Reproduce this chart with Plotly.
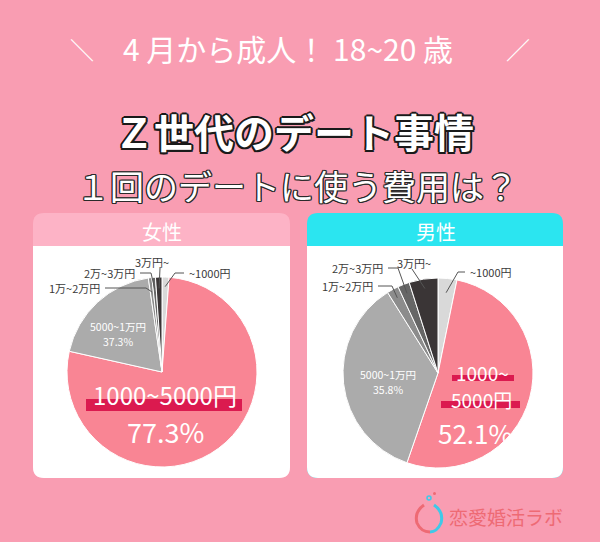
import math
import plotly.graph_objects as go

# ---------------- data ----------------
categories = ["~1000円", "1000~5000円", "5000~1万円", "1万~2万円", "2万~3万円", "3万円~"]
women_values = [1.2, 77.3, 19.2, 0.6, 0.6, 1.1]
men_values = [3.2, 52.1, 35.8, 2.0, 2.0, 4.9]
women_printed_pct = ["", "77.3%", "37.3%", "", "", ""]
men_printed_pct = ["", "52.1%", "35.8%", "", "", ""]
slice_colors = ["#D9D9D9", "#F98594", "#ABABAB", "#8C8C8C", "#666666", "#3A3536"]
panel_titles = ["女性", "男性"]

W, H = 600, 542
BG = "#F99DB2"
FONT = "Noto Sans CJK JP"

# pie geometry (pixels)
pies = [
    dict(cx=162, cy=372, r=95, values=women_values, pct=women_printed_pct),
    dict(cx=438, cy=373, r=95, values=men_values, pct=men_printed_pct),
]

fig = go.Figure()

# invisible helper trace to create pixel-aligned cartesian axes
fig.add_trace(go.Scatter(x=[0], y=[0], mode="markers", marker=dict(opacity=0),
                         hoverinfo="skip", showlegend=False))

for p in pies:
    fig.add_trace(go.Pie(
        labels=categories, values=p["values"], sort=False, direction="clockwise",
        rotation=0, textinfo="none", hoverinfo="label+value",
        marker=dict(colors=slice_colors, line=dict(color="white", width=1)),
        domain=dict(x=[(p["cx"] - p["r"]) / W, (p["cx"] + p["r"]) / W],
                    y=[(H - p["cy"] - p["r"]) / H, (H - p["cy"] + p["r"]) / H]),
        showlegend=False,
    ))


def rrect(x0, y0, x1, y1, r, top=True, bottom=True):
    rt = r if top else 0
    rb = r if bottom else 0
    return (f"M {x0+rt},{y0} L {x1-rt},{y0} Q {x1},{y0} {x1},{y0+rt} "
            f"L {x1},{y1-rb} Q {x1},{y1} {x1-rb},{y1} L {x0+rb},{y1} "
            f"Q {x0},{y1} {x0},{y1-rb} L {x0},{y0+rt} Q {x0},{y0} {x0+rt},{y0} Z")


shapes = []
annotations = []

cards = [
    dict(x0=33, x1=290, head="#FDB3C6", title=panel_titles[0], tx=162),
    dict(x0=307, x1=563, head="#2BE5F0", title=panel_titles[1], tx=436),
]
for c in cards:
    shapes.append(dict(type="path", xref="x", yref="y", layer="below",
                       path=rrect(c["x0"], 213, c["x1"], 478, 11),
                       fillcolor=c["head"], line=dict(width=0)))
    shapes.append(dict(type="path", xref="x", yref="y", layer="below",
                       path=rrect(c["x0"], 246, c["x1"], 478, 11, top=False),
                       fillcolor="white", line=dict(width=0)))
    annotations.append(dict(x=c["tx"], y=231, xref="x", yref="y", text=c["title"],
                            showarrow=False, font=dict(family=FONT, size=20, color="white")))

# ---------------- titles ----------------
outline_dark = ("2px 0 0 #1a1a1a, -2px 0 0 #1a1a1a, 0 2px 0 #1a1a1a, 0 -2px 0 #1a1a1a, "
                "1.5px 1.5px 0 #1a1a1a, -1.5px -1.5px 0 #1a1a1a, 1.5px -1.5px 0 #1a1a1a, -1.5px 1.5px 0 #1a1a1a")
outline_thin = ("1.3px 0 0 #2a2a2a, -1.3px 0 0 #2a2a2a, 0 1.3px 0 #2a2a2a, 0 -1.3px 0 #2a2a2a, "
                "1px 1px 0 #2a2a2a, -1px -1px 0 #2a2a2a, 1px -1px 0 #2a2a2a, -1px 1px 0 #2a2a2a")

annotations += [
    dict(x=82, y=48, xref="x", yref="y", text="＼", showarrow=False,
         font=dict(family=FONT, size=24, color="white")),
    dict(x=518, y=48, xref="x", yref="y", text="／", showarrow=False,
         font=dict(family=FONT, size=24, color="white")),
    dict(x=288, y=48, xref="x", yref="y", text="4 月から成人！ 18~20 歳", showarrow=False,
         font=dict(family=FONT, size=30, color="white")),
    dict(x=294, y=131, xref="x", yref="y", text="<b>Ｚ世代のデート事情</b>", showarrow=False,
         font=dict(family=FONT, size=40, color="white", shadow=outline_dark)),
    dict(x=297, y=185, xref="x", yref="y", text="１回のデートに使う費用は？", showarrow=False,
         font=dict(family=FONT, size=34, color="white", shadow=outline_thin)),
]


# ---------------- leader labels (endpoints from slice angles) ----------------
def slice_point(p, idx, k):
    vals = p["values"]
    tot = sum(vals)
    before = sum(vals[:idx])
    theta = math.radians(360.0 * (before + vals[idx] / 2.0) / tot)
    return (p["cx"] + p["r"] * k * math.sin(theta), p["cy"] - p["r"] * k * math.cos(theta))


LBL = dict(family=FONT, size=11, color="#3a3a3a")
LINE = dict(color="#555555", width=1)

leader_specs = [
    # pie index, slice index, label x, label y, anchor, elbow pts before slice point, depth
    (0, 0, 187, 273, "left", [(184, 273), (175, 273)], 0.9),
    (0, 5, 152, 262, "center", [(160, 268)], 0.88),
    (0, 4, 137, 273, "right", [(140, 273), (151, 273)], 0.88),
    (0, 3, 102, 288, "right", [(105, 288), (146, 288)], 0.85),
    (1, 0, 468, 272, "left", [(465, 272), (458, 272)], 0.85),
    (1, 5, 414, 263, "center", [(412, 269)], 0.9),
    (1, 4, 385, 268, "right", [(388, 268), (398, 268)], 0.9),
    (1, 3, 375, 286, "right", [(378, 286), (392, 286)], 0.9),
]
for pi, si, lx, ly, anc, pts, k in leader_specs:
    p = pies[pi]
    ex, ey = slice_point(p, si, k)
    allpts = pts + [(ex, ey)]
    path = "M " + " L ".join(f"{x:.1f},{y:.1f}" for x, y in allpts)
    shapes.append(dict(type="path", xref="x", yref="y", layer="above", path=path, line=LINE))
    annotations.append(dict(x=lx, y=ly, xref="x", yref="y", text=categories[si], showarrow=False,
                            xanchor=anc, font=LBL))

# ---------------- inside labels ----------------
WHITE_S = dict(family=FONT, size=10.5, color="white")
annotations += [
    dict(x=118, y=326, xref="x", yref="y", text=categories[2], showarrow=False, font=WHITE_S),
    dict(x=118, y=341, xref="x", yref="y", text=women_printed_pct[2], showarrow=False, font=WHITE_S),
    dict(x=388, y=374, xref="x", yref="y", text=categories[2], showarrow=False, font=WHITE_S),
    dict(x=388, y=389, xref="x", yref="y", text=men_printed_pct[2], showarrow=False, font=WHITE_S),
]

HILITE = "#DB1A4F"
# highlight bars under big category labels
shapes += [
    dict(type="rect", xref="x", yref="y", layer="above", x0=86, x1=242, y0=399, y1=411,
         fillcolor=HILITE, line=dict(width=0)),
    dict(type="rect", xref="x", yref="y", layer="above", x0=452, x1=514, y0=375, y1=381,
         fillcolor=HILITE, line=dict(width=0)),
    dict(type="rect", xref="x", yref="y", layer="above", x0=441, x1=520, y0=401, y1=408,
         fillcolor=HILITE, line=dict(width=0)),
]
BIG = dict(family=FONT, size=24, color="white")
MBIG = dict(family=FONT, size=19, color="white")
PCT = dict(family=FONT, size=27, color="white")
annotations += [
    dict(x=482, y=372, xref="x", yref="y", text="1000~", showarrow=False, font=MBIG),
    dict(x=481, y=399, xref="x", yref="y", text="5000円", showarrow=False, font=MBIG),
    dict(x=165, y=394, xref="x", yref="y", text=categories[1], showarrow=False, font=BIG),
    dict(x=165, y=431, xref="x", yref="y", text=women_printed_pct[1], showarrow=False, font=PCT),
    dict(x=475, y=432, xref="x", yref="y", text=men_printed_pct[1], showarrow=False,
         font=dict(family=FONT, size=26, color="white")),
]

# ---------------- logo ----------------
LOGO = "#EE6A74"
shapes += [
    dict(type="path", xref="x", yref="y", layer="above",
         path="M 424,505 Q 414,512 417,523 Q 421,532 430,532", line=dict(color=LOGO, width=3)),
    dict(type="path", xref="x", yref="y", layer="above",
         path="M 434,505 Q 444,512 441,523 Q 437,532 430,532", line=dict(color="#3FC9E8", width=3)),
    dict(type="circle", xref="x", yref="y", layer="above", x0=427, x1=431, y0=496, y1=500,
         line=dict(color="#3FC9E8", width=1.5)),
    dict(type="circle", xref="x", yref="y", layer="above", x0=433, x1=436, y0=492, y1=495,
         fillcolor=LOGO, line=dict(width=0)),
]
annotations.append(dict(x=447, y=516, xref="x", yref="y", text="恋愛婚活ラボ", xanchor="left",
                        showarrow=False, font=dict(family=FONT, size=19, color=LOGO)))

fig.update_layout(
    width=W, height=H, margin=dict(l=0, r=0, t=0, b=0),
    paper_bgcolor=BG, plot_bgcolor=BG,
    xaxis=dict(range=[0, W], visible=False, fixedrange=True, domain=[0, 1]),
    yaxis=dict(range=[H, 0], visible=False, fixedrange=True, domain=[0, 1]),
    shapes=shapes, annotations=annotations, showlegend=False,
)

fig.write_html("out.html", config={"displayModeBar": False},
               post_script="document.body.style.margin='0';document.body.style.background='" + BG + "';")
